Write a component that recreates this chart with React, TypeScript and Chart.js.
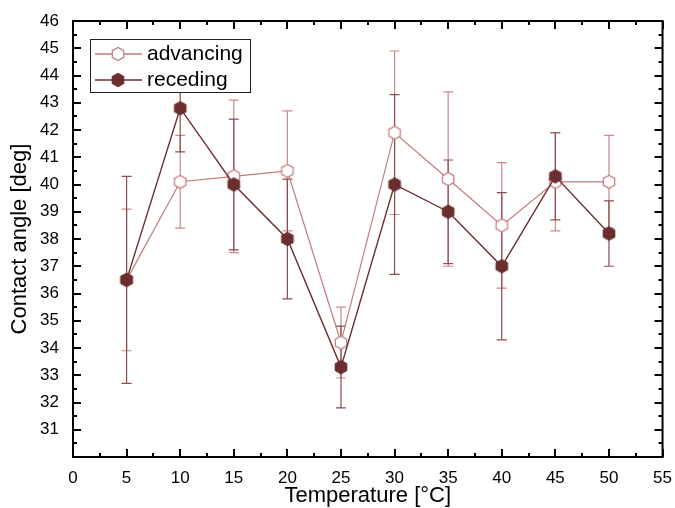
import React, { useEffect, useRef } from "react";
import { Chart, registerables } from "chart.js";

Chart.register(...registerables);

const temperatures = [5, 10, 15, 20, 25, 30, 35, 40, 45, 50];
const advancing = [36.5, 40.1, 40.3, 40.5, 34.2, 41.9, 40.2, 38.5, 40.1, 40.1];
const advancingErr = [2.6, 1.7, 2.8, 2.2, 1.3, 3.0, 3.2, 2.3, 1.8, 1.7];
const receding = [36.5, 42.8, 40.0, 38.0, 33.3, 40.0, 39.0, 37.0, 40.3, 38.2];
const recedingErr = [3.8, 1.6, 2.4, 2.2, 1.5, 3.3, 1.9, 2.7, 1.6, 1.2];

const xTicks = [0, 5, 10, 15, 20, 25, 30, 35, 40, 45, 50, 55];
const yMin = 30;
const yMax = 46;

const ADV_COLOR = "#c47a7a";
const ADV_ERR = "#c98a8a";
const REC_COLOR = "#6b2e2e";
const REC_ERR = "#8e4c4c";
const FONT = "'Liberation Sans', Arial, Helvetica, sans-serif";

function hexPath(ctx: CanvasRenderingContext2D, cx: number, cy: number, r: number) {
  ctx.beginPath();
  for (let i = 0; i < 6; i++) {
    const a = Math.PI / 2 + (i * Math.PI) / 3;
    const x = cx + r * Math.cos(a);
    const y = cy - r * Math.sin(a);
    if (i === 0) ctx.moveTo(x, y);
    else ctx.lineTo(x, y);
  }
  ctx.closePath();
}

function makeHex(fill: string, stroke: string): HTMLCanvasElement {
  const c = document.createElement("canvas");
  c.width = 16;
  c.height = 16;
  const ctx = c.getContext("2d")!;
  hexPath(ctx, 8, 8, 6.6);
  ctx.fillStyle = fill;
  ctx.fill();
  ctx.lineWidth = 1.2;
  ctx.strokeStyle = stroke;
  ctx.stroke();
  return c;
}

export default function App() {
  const ref = useRef<HTMLCanvasElement | null>(null);

  useEffect(() => {
    document.body.style.margin = "0";
    const canvas = ref.current;
    if (!canvas) return;

    const advHex = makeHex("#ffffff", ADV_COLOR);
    const recHex = makeHex(REC_COLOR, REC_COLOR);
    const errs: Record<string, { e: number[]; color: string }> = {
      advancing: { e: advancingErr, color: ADV_ERR },
      receding: { e: recedingErr, color: REC_ERR },
    };

    const errorBars = {
      id: "errorBars",
      beforeDatasetsDraw(chart: any) {
        const ctx = chart.ctx;
        const xs = chart.scales.x;
        const ys = chart.scales.y;
        ctx.save();
        chart.data.datasets.forEach((ds: any) => {
          const info = errs[ds.label];
          ctx.strokeStyle = info.color;
          ctx.lineWidth = 1.2;
          ds.data.forEach((pt: any, i: number) => {
            const x = xs.getPixelForValue(pt.x);
            const yt = ys.getPixelForValue(pt.y + info.e[i]);
            const yb = ys.getPixelForValue(pt.y - info.e[i]);
            ctx.beginPath();
            ctx.moveTo(x, yt);
            ctx.lineTo(x, yb);
            ctx.moveTo(x - 5, yt);
            ctx.lineTo(x + 5, yt);
            ctx.moveTo(x - 5, yb);
            ctx.lineTo(x + 5, yb);
            ctx.stroke();
          });
        });
        ctx.restore();
      },
      afterDraw(chart: any) {
        const ctx = chart.ctx;
        const xs = chart.scales.x;
        const ys = chart.scales.y;
        const a = chart.chartArea;
        ctx.save();
        ctx.strokeStyle = "#000";
        ctx.lineWidth = 2;
        ctx.beginPath();
        for (let v = yMin; v <= yMax; v += 0.5) {
          const y = Math.round(ys.getPixelForValue(v));
          const len = Number.isInteger(v) ? 8 : 4;
          ctx.moveTo(a.left, y);
          ctx.lineTo(a.left + len, y);
          ctx.moveTo(a.right, y);
          ctx.lineTo(a.right - len, y);
        }
        for (let v = 0; v <= 55; v += 2.5) {
          const x = Math.round(xs.getPixelForValue(v));
          const len = v % 5 === 0 ? 8 : 4;
          ctx.moveTo(x, a.bottom);
          ctx.lineTo(x, a.bottom - len);
          ctx.moveTo(x, a.top);
          ctx.lineTo(x, a.top + len);
        }
        ctx.stroke();
        ctx.strokeRect(a.left, a.top, a.right - a.left, a.bottom - a.top);

        const lx = 90, ly = 39, lw = 160, lh = 53;
        ctx.fillStyle = "#fff";
        ctx.fillRect(lx, ly, lw, lh);
        ctx.lineWidth = 1;
        ctx.strokeStyle = "#222";
        ctx.strokeRect(lx + 0.5, ly + 0.5, lw, lh);
        const rows = [
          { label: "advancing", color: ADV_COLOR, img: advHex, y: 54 },
          { label: "receding", color: REC_COLOR, img: recHex, y: 80 },
        ];
        rows.forEach((r) => {
          ctx.strokeStyle = r.color;
          ctx.lineWidth = 1.3;
          ctx.beginPath();
          ctx.moveTo(95, r.y);
          ctx.lineTo(142, r.y);
          ctx.stroke();
          ctx.drawImage(r.img, 118 - 8, r.y - 8);
          ctx.fillStyle = "#000";
          ctx.font = `21px ${FONT}`;
          ctx.textBaseline = "middle";
          ctx.textAlign = "left";
          ctx.fillText(r.label, 147, r.y);
        });
        ctx.restore();
      },
    };

    const chart = new Chart(canvas, {
      type: "line",
      data: {
        datasets: [
          {
            label: "advancing",
            data: temperatures.map((t, i) => ({ x: t, y: advancing[i] })),
            borderColor: ADV_COLOR,
            borderWidth: 1.2,
            pointStyle: advHex as any,
            order: 1,
          },
          {
            label: "receding",
            data: temperatures.map((t, i) => ({ x: t, y: receding[i] })),
            borderColor: REC_COLOR,
            borderWidth: 1.4,
            pointStyle: recHex as any,
            order: 0,
          },
        ],
      },
      options: {
        animation: false,
        responsive: false,
        layout: { padding: { top: 21, right: 11, left: 0, bottom: 0 } },
        plugins: { legend: { display: false }, tooltip: { enabled: false } },
        scales: {
          x: {
            type: "linear",
            min: 0,
            max: 55,
            afterBuildTicks: (s: any) => {
              s.ticks = xTicks.map((v) => ({ value: v }));
            },
            afterFit: (s: any) => {
              s.height = 51;
            },
            grid: { display: false },
            border: { display: false },
            ticks: {
              color: "#000",
              font: { family: FONT, size: 17 },
              padding: 3,
              maxRotation: 0,
              autoSkip: false,
            },
            title: {
              display: true,
              text: "Temperature [°C]",
              color: "#000",
              font: { family: FONT, size: 22, lineHeight: 1 },
              padding: { top: 0, bottom: 1 },
            },
          },
          y: {
            type: "linear",
            min: yMin,
            max: yMax,
            ticks: {
              stepSize: 1,
              color: "#000",
              font: { family: FONT, size: 17 },
              padding: 6,
              autoSkip: false,
              callback: (v: any) => (v === yMin ? "" : String(v)),
            },
            afterFit: (s: any) => {
              s.width = 73;
            },
            grid: { display: false },
            border: { display: false },
            title: {
              display: true,
              text: "Contact angle [deg]",
              color: "#000",
              font: { family: FONT, size: 22, lineHeight: 1 },
              padding: { top: 9, bottom: 0 },
            },
          },
        },
      } as any,
      plugins: [errorBars],
    });

    return () => chart.destroy();
  }, []);

  return (
    <div style={{ width: 675, height: 508 }}>
      <canvas ref={ref} width={675} height={508} style={{ display: "block" }} />
    </div>
  );
}
